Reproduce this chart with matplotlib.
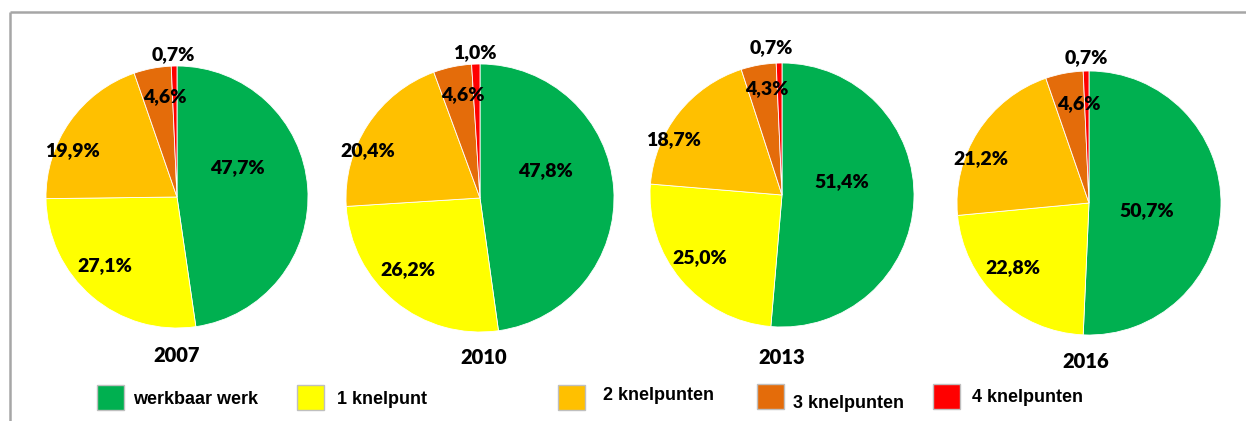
import matplotlib
matplotlib.use("Agg")
import matplotlib.pyplot as plt
from matplotlib.patches import Rectangle

# data
years = ["2007", "2010", "2013", "2016"]
categories = ["werkbaar werk", "1 knelpunt", "2 knelpunten", "3 knelpunten", "4 knelpunten"]
share_2007 = [47.7, 27.1, 19.9, 4.6, 0.7]
share_2010 = [47.8, 26.2, 20.4, 4.6, 1.0]
share_2013 = [51.4, 25.0, 18.7, 4.3, 0.7]
share_2016 = [50.7, 22.8, 21.2, 4.6, 0.7]
shares = [share_2007, share_2010, share_2013, share_2016]

colors = ["#00B050", "#FFFF00", "#FFC000", "#E46C0A", "#FF0000"]

# layout (pixel units, y measured from top)
W, H = 1246, 421
pie_center = [(177, 197), (480, 198), (782, 195), (1089, 203)]
pie_radius = [131, 134, 132, 132]
label_off = [
    [(60, -29), (-72, 69), (-105, -46), (-12, -100), (-4, -142)],
    [(65, -27), (-72, 72), (-112, -47), (-17, -103), (-5, -145)],
    [(60, -13), (-82, 63), (-109, -55), (-15, -106), (-11, -147)],
    [(58, 8), (-76, 65), (-108, -44), (-10, -99), (-3, -145)],
]
year_pos = [(177, 355), (484, 357), (782, 357), (1086, 362)]
legend_box_x = [97, 297, 558, 757, 933]
legend_box_y = [385, 385, 385, 384, 384]
legend_txt_x = [133, 337, 603, 793, 972]
legend_txt_y = [399, 399, 396, 403, 397]

pct_font = dict(family=["Lato", "DejaVu Sans"], fontweight="heavy", fontsize=14)
leg_font = ["Liberation Sans Narrow", "Liberation Sans", "DejaVu Sans"]

fig = plt.figure(figsize=(W / 100, H / 100), dpi=100)
ax = fig.add_axes([0, 0, 1, 1])

def fy(y):
    return H - y

for i, vals in enumerate(shares):
    cx, cy = pie_center[i]
    ax.pie(vals, colors=colors, startangle=90, counterclock=False,
           center=(cx, fy(cy)), radius=pie_radius[i],
           wedgeprops=dict(edgecolor="white", linewidth=0.6))
    for j, v in enumerate(vals):
        dx, dy = label_off[i][j]
        ax.text(cx + dx, fy(cy + dy), f"{v:.1f}%".replace(".", ","),
                ha="center", va="center", **pct_font)
    yx, yy = year_pos[i]
    ax.text(yx, fy(yy), years[i], ha="center", va="center",
            family=["Lato", "DejaVu Sans"], fontweight="heavy", fontsize=14.5)

# legend drawn by hand
for k, name in enumerate(categories):
    ax.add_patch(Rectangle((legend_box_x[k], fy(legend_box_y[k] + 25)), 27, 25,
                           facecolor=colors[k], edgecolor="#BFBFBF", linewidth=1))
    ax.text(legend_txt_x[k], fy(legend_txt_y[k]), name, ha="left", va="center",
            family=leg_font, fontweight="bold", fontsize=13)

# frame lines (top and left)
ax.plot([10, W], [fy(12), fy(12)], color="#A6A6A6", lw=1.8, solid_capstyle="butt")
ax.plot([10, 10], [fy(12), 0], color="#A6A6A6", lw=1.8, solid_capstyle="butt")

ax.set_xlim(0, W)
ax.set_ylim(0, H)
ax.set_aspect("auto")
ax.axis("off")

fig.savefig("out.png", dpi=100)
